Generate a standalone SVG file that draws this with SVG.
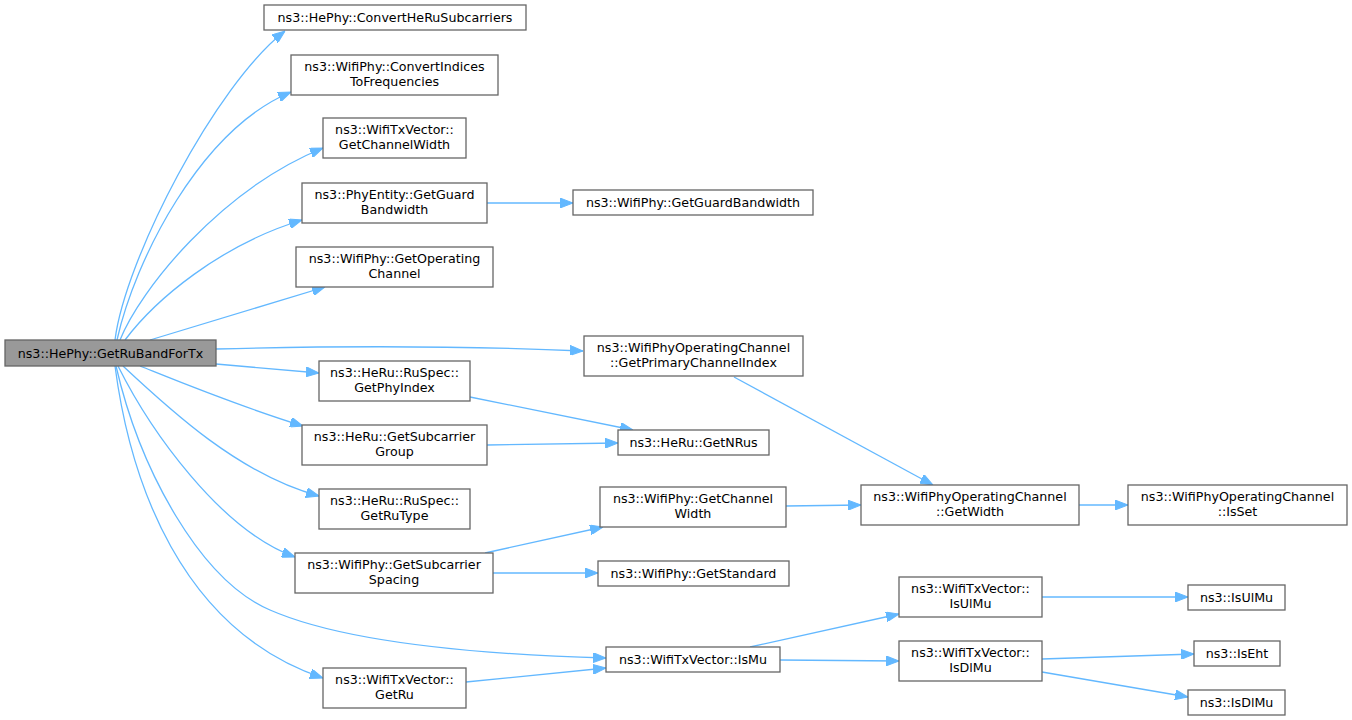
<svg xmlns="http://www.w3.org/2000/svg" width="1352" height="720" viewBox="0 0 1352 720">
<style>
.n rect{fill:#ffffff;stroke:#666666;stroke-width:1.3}
.n.root rect{fill:#999999}
.n text{font-family:"DejaVu Sans","Liberation Sans",sans-serif;font-size:12.67px;fill:#000000;text-anchor:middle}
.e path{fill:none;stroke:#63b8ff;stroke-width:1.3;marker-end:url(#ah)}
</style>
<defs>
<marker id="ah" viewBox="0 0 13 10" refX="13" refY="5" markerWidth="13" markerHeight="10" markerUnits="userSpaceOnUse" orient="auto">
<path d="M0,0 L13,5 L0,10 z" fill="#63b8ff" stroke="#63b8ff"/>
</marker>
</defs>
<rect width="1352" height="720" fill="#ffffff"/>
<g id="connectors" class="e">
<path d="M115,340 C125,260 215,85 285,31"/>
<path d="M117,340 C135,260 200,130 291,92"/>
<path d="M120,340 C140,290 220,190 323,148"/>
<path d="M125,340 C155,300 220,245 302,220"/>
<path d="M150,340 L325,287"/>
<path d="M216,349 C330,346 470,346 583,351"/>
<path d="M216,364 L319,373"/>
<path d="M140,366 C175,380 235,405 303,426"/>
<path d="M123,366 C170,410 240,475 319,496"/>
<path d="M118,366 C150,430 220,530 295,557"/>
<path d="M116,366 C140,470 200,580 270,610 C350,645 500,655 606,658"/>
<path d="M115,366 C130,480 180,630 323,678"/>
<path d="M487,203 L573,203"/>
<path d="M470,397 L633,430"/>
<path d="M487,445 L618,443"/>
<path d="M734,377 L933,485"/>
<path d="M485,553 L603,527"/>
<path d="M493,573 L598,573"/>
<path d="M786,506 L861,505"/>
<path d="M1079,505 L1128,505"/>
<path d="M750,647 L899,614"/>
<path d="M780,660 L899,661"/>
<path d="M1042,597 L1188,597"/>
<path d="M1042,659 L1194,654"/>
<path d="M1042,672 L1188,697"/>
<path d="M466,682 L606,668"/>
</g>
<g id="n_root" class="n root"><rect x="5" y="340" width="211" height="26"/><text x="110.5" y="357.5">ns3::HePhy::GetRuBandForTx</text></g>
<g id="n_convertHeRu" class="n"><rect x="264" y="5" width="262" height="25"/><text x="395" y="21.5">ns3::HePhy::ConvertHeRuSubcarriers</text></g>
<g id="n_convertIndices" class="n"><rect x="291" y="55" width="207" height="40"/><text x="394.5" y="71.3">ns3::WifiPhy::ConvertIndices</text><text x="394.5" y="85.6">ToFrequencies</text></g>
<g id="n_txGetChannelWidth" class="n"><rect x="323" y="118" width="143" height="40"/><text x="394.5" y="134.3">ns3::WifiTxVector::</text><text x="394.5" y="148.6">GetChannelWidth</text></g>
<g id="n_peGetGuardBandwidth" class="n"><rect x="302" y="183" width="185" height="40"/><text x="394.5" y="199.3">ns3::PhyEntity::GetGuard</text><text x="394.5" y="213.6">Bandwidth</text></g>
<g id="n_getOperatingChannel" class="n"><rect x="296" y="247" width="197" height="40"/><text x="394.5" y="263.3">ns3::WifiPhy::GetOperating</text><text x="394.5" y="277.6">Channel</text></g>
<g id="n_getPhyIndex" class="n"><rect x="319" y="361" width="151" height="40"/><text x="394.5" y="377.3">ns3::HeRu::RuSpec::</text><text x="394.5" y="391.6">GetPhyIndex</text></g>
<g id="n_getSubcarrierGroup" class="n"><rect x="302" y="425" width="185" height="40"/><text x="394.5" y="441.3">ns3::HeRu::GetSubcarrier</text><text x="394.5" y="455.6">Group</text></g>
<g id="n_getRuType" class="n"><rect x="319" y="489" width="151" height="40"/><text x="394.5" y="505.3">ns3::HeRu::RuSpec::</text><text x="394.5" y="519.6">GetRuType</text></g>
<g id="n_getSubcarrierSpacing" class="n"><rect x="295" y="553" width="198" height="40"/><text x="394" y="569.3">ns3::WifiPhy::GetSubcarrier</text><text x="394" y="583.6">Spacing</text></g>
<g id="n_getRu" class="n"><rect x="323" y="668" width="143" height="40"/><text x="394.5" y="684.3">ns3::WifiTxVector::</text><text x="394.5" y="698.6">GetRu</text></g>
<g id="n_wpGetGuardBandwidth" class="n"><rect x="573" y="190" width="240" height="25"/><text x="693" y="206.5">ns3::WifiPhy::GetGuardBandwidth</text></g>
<g id="n_getPrimaryChannelIndex" class="n"><rect x="584" y="336" width="219" height="40"/><text x="693.5" y="352.3">ns3::WifiPhyOperatingChannel</text><text x="693.5" y="366.6">::GetPrimaryChannelIndex</text></g>
<g id="n_getNRus" class="n"><rect x="618" y="430" width="151" height="25"/><text x="693.5" y="446.5">ns3::HeRu::GetNRus</text></g>
<g id="n_wpGetChannelWidth" class="n"><rect x="600" y="487" width="186" height="40"/><text x="693" y="503.3">ns3::WifiPhy::GetChannel</text><text x="693" y="517.6">Width</text></g>
<g id="n_getWidth" class="n"><rect x="861" y="485" width="218" height="40"/><text x="970" y="501.3">ns3::WifiPhyOperatingChannel</text><text x="970" y="515.6">::GetWidth</text></g>
<g id="n_isSet" class="n"><rect x="1128" y="485" width="219" height="40"/><text x="1237.5" y="501.3">ns3::WifiPhyOperatingChannel</text><text x="1237.5" y="515.6">::IsSet</text></g>
<g id="n_getStandard" class="n"><rect x="598" y="561" width="191" height="25"/><text x="693.5" y="577.5">ns3::WifiPhy::GetStandard</text></g>
<g id="n_isMu" class="n"><rect x="606" y="647" width="174" height="25"/><text x="693" y="663.5">ns3::WifiTxVector::IsMu</text></g>
<g id="n_txIsUlMu" class="n"><rect x="899" y="577" width="143" height="40"/><text x="970.5" y="593.3">ns3::WifiTxVector::</text><text x="970.5" y="607.6">IsUlMu</text></g>
<g id="n_txIsDlMu" class="n"><rect x="899" y="641" width="143" height="40"/><text x="970.5" y="657.3">ns3::WifiTxVector::</text><text x="970.5" y="671.6">IsDlMu</text></g>
<g id="n_isUlMu" class="n"><rect x="1188" y="585" width="97" height="25"/><text x="1236.5" y="601.5">ns3::IsUlMu</text></g>
<g id="n_isEht" class="n"><rect x="1194" y="641" width="86" height="25"/><text x="1237" y="657.5">ns3::IsEht</text></g>
<g id="n_isDlMu" class="n"><rect x="1188" y="690" width="97" height="25"/><text x="1236.5" y="706.5">ns3::IsDlMu</text></g>
</svg>
